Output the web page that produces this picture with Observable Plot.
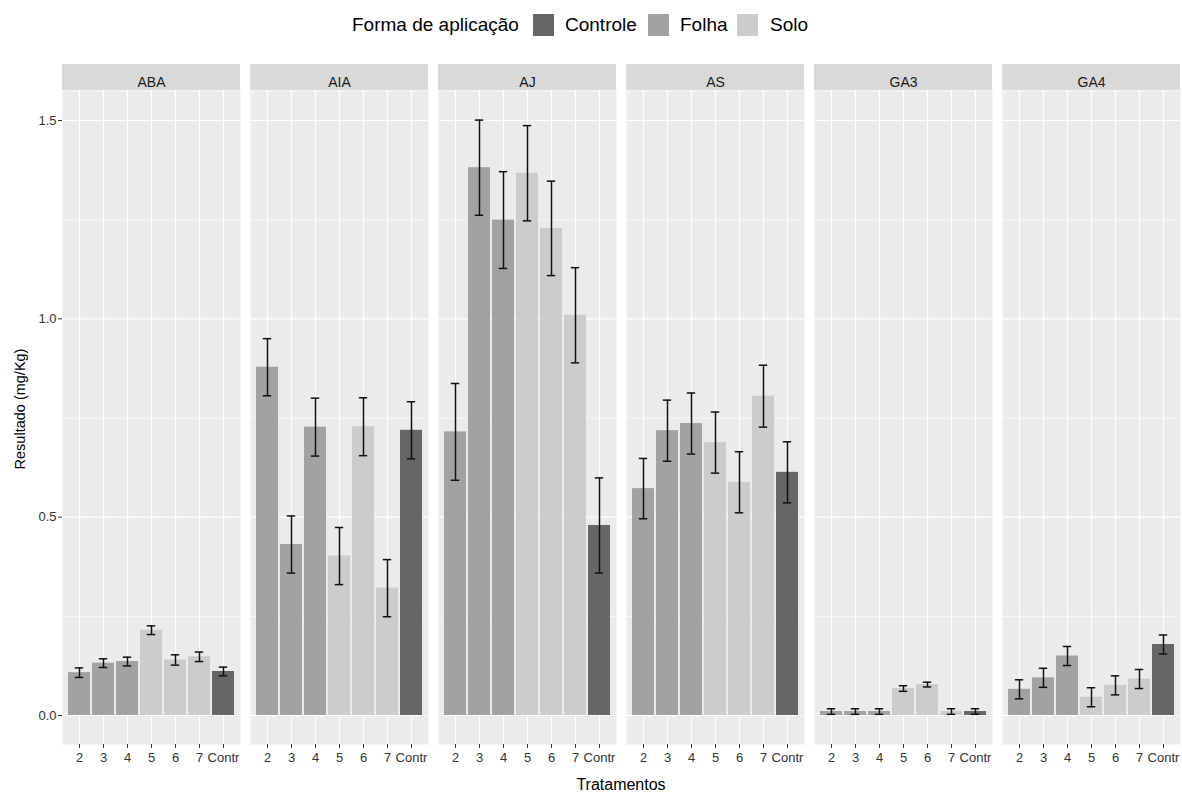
<!DOCTYPE html>
<html>
<head>
<meta charset="utf-8">
<script src="https://cdn.jsdelivr.net/npm/d3@7"></script>
<script src="https://cdn.jsdelivr.net/npm/@observablehq/plot@0.6"></script>
<style>
  html, body { margin: 0; padding: 0; background: white; }
  #wrap { position: relative; width: 1182px; height: 794px; font-family: "Liberation Sans", Arial, sans-serif; overflow: hidden; }
  #legend { position: absolute; top: 0; left: 0; height: 50px; width: 1182px; }
  #legend span { position: absolute; font-size: 19px; color: #000; line-height: 22px; top: 14px; white-space: nowrap; }
  #legend i { position: absolute; top: 14px; width: 21px; height: 22px; display: block; }
  #chart { position: absolute; top: 50px; left: 0; }
  #xtitle { position: absolute; top: 777px; left: 62px; width: 1118px; text-align: center; font-size: 16px; line-height: 16px; color: #000; }
  #ytitle { position: absolute; left: 20px; top: 409px; transform: translate(-50%, -50%) rotate(-90deg); font-size: 14.5px; white-space: nowrap; color: #000; }
</style>
</head>
<body>
<div id="wrap">
  <div id="legend"></div>
  <div id="chart"></div>
  <div id="ytitle">Resultado (mg/Kg)</div>
  <div id="xtitle">Tratamentos</div>
</div>
<script>
// ---- data ----
const hormones = ["ABA", "AIA", "AJ", "AS", "GA3", "GA4"];
const treatments = ["2", "3", "4", "5", "6", "7", "Contr"];
const forms = ["Folha", "Folha", "Folha", "Solo", "Solo", "Solo", "Controle"];
const formDomain = ["Controle", "Folha", "Solo"];
const formColors = ["#666666", "#a2a2a2", "#cccccc"];

const valABA = [0.108, 0.132, 0.136, 0.215, 0.140, 0.148, 0.111];
const errABA = [0.012, 0.011, 0.011, 0.011, 0.013, 0.012, 0.011];
const valAIA = [0.878, 0.431, 0.727, 0.402, 0.728, 0.321, 0.719];
const errAIA = [0.072, 0.072, 0.073, 0.072, 0.073, 0.072, 0.072];
const valAJ  = [0.715, 1.381, 1.249, 1.367, 1.228, 1.009, 0.479];
const errAJ  = [0.122, 0.120, 0.122, 0.120, 0.119, 0.120, 0.120];
const valAS  = [0.572, 0.718, 0.736, 0.688, 0.588, 0.805, 0.613];
const errAS  = [0.076, 0.077, 0.077, 0.077, 0.077, 0.078, 0.077];
const valGA3 = [0.010, 0.010, 0.010, 0.068, 0.078, 0.010, 0.010];
const errGA3 = [0.007, 0.007, 0.007, 0.007, 0.006, 0.007, 0.007];
const valGA4 = [0.066, 0.095, 0.150, 0.046, 0.076, 0.092, 0.179];
const errGA4 = [0.024, 0.024, 0.024, 0.024, 0.024, 0.024, 0.024];

const yMajor = [0, 0.5, 1.0, 1.5];
const yMinor = [0.25, 0.75, 1.25];

// ---- table ----
const series = {
  ABA: [valABA, errABA], AIA: [valAIA, errAIA], AJ: [valAJ, errAJ],
  AS: [valAS, errAS], GA3: [valGA3, errGA3], GA4: [valGA4, errGA4]
};
const rows = [];
for (const h of hormones) {
  const [vals, errs] = series[h];
  treatments.forEach((t, i) => {
    rows.push({h, t, form: forms[i], v: vals[i], lo: vals[i] - errs[i], hi: vals[i] + errs[i]});
  });
}

const yTop = 1.5756, yBot = -0.0731;
const pxPerUnit = 654 / (yTop - yBot);
const stripTop = yTop + 26 / pxPerUnit;

const chart = Plot.plot({
  width: 1182,
  height: 726,
  marginLeft: 62,
  marginRight: 2,
  marginTop: 40,
  marginBottom: 32,
  style: {fontFamily: "'Liberation Sans', Arial, sans-serif", background: "white", overflow: "visible"},
  fx: {domain: hormones, paddingInner: 10 / 188, paddingOuter: 0, axis: null, label: null},
  x: {domain: treatments, paddingInner: 0.1, paddingOuter: 0.15, label: null},
  y: {domain: [yBot, yTop], label: null},
  color: {domain: formDomain, range: formColors},
  marks: [
    Plot.frame({fill: "#ebebeb", stroke: null}),
    Plot.gridY(yMinor, {stroke: "white", strokeOpacity: 1, strokeWidth: 0.6}),
    Plot.gridY(yMajor, {stroke: "white", strokeOpacity: 1, strokeWidth: 1.2}),
    Plot.gridX({stroke: "white", strokeOpacity: 1, strokeWidth: 1.2}),
    Plot.rect(hormones, {fx: d => d, y1: () => yTop, y2: () => stripTop, fill: "#d9d9d9"}),
    Plot.text(hormones, {fx: d => d, text: d => d, frameAnchor: "top", dy: -13, fontSize: 14, fill: "#1a1a1a"}),
    Plot.barY(rows, {fx: "h", x: "t", y: "v", fill: "form"}),
    Plot.ruleX(rows, {fx: "h", x: "t", y1: "lo", y2: "hi", stroke: "#111", strokeWidth: 1.5}),
    Plot.tickY(rows, {fx: "h", x: "t", y: "hi", stroke: "#111", strokeWidth: 1.5, insetLeft: 6.8, insetRight: 6.8}),
    Plot.tickY(rows, {fx: "h", x: "t", y: "lo", stroke: "#111", strokeWidth: 1.5, insetLeft: 6.8, insetRight: 6.8}),
    Plot.axisX({tickSize: 4, tickPadding: 4, fontSize: 13, stroke: "#333", fill: "#333", label: null}),
    Plot.axisY({ticks: yMajor, tickFormat: d3.format(".1f"), tickSize: 4, tickPadding: 2, fontSize: 13, stroke: "#333", fill: "#333", label: null})
  ]
});
document.getElementById("chart").appendChild(chart);

// ---- legend ----
const legend = document.getElementById("legend");
const addSpan = (txt, left) => { const s = document.createElement("span"); s.textContent = txt; s.style.left = left + "px"; legend.appendChild(s); return s; };
const addBox = (col, left) => { const b = document.createElement("i"); b.style.background = col; b.style.left = left + "px"; legend.appendChild(b); };
addSpan("Forma de aplicação", 352);
const boxLefts = [533, 648, 737];
const textLefts = [565, 680, 770];
formDomain.forEach((f, i) => { addBox(formColors[i], boxLefts[i]); addSpan(f, textLefts[i]); });
</script>
</body>
</html>
